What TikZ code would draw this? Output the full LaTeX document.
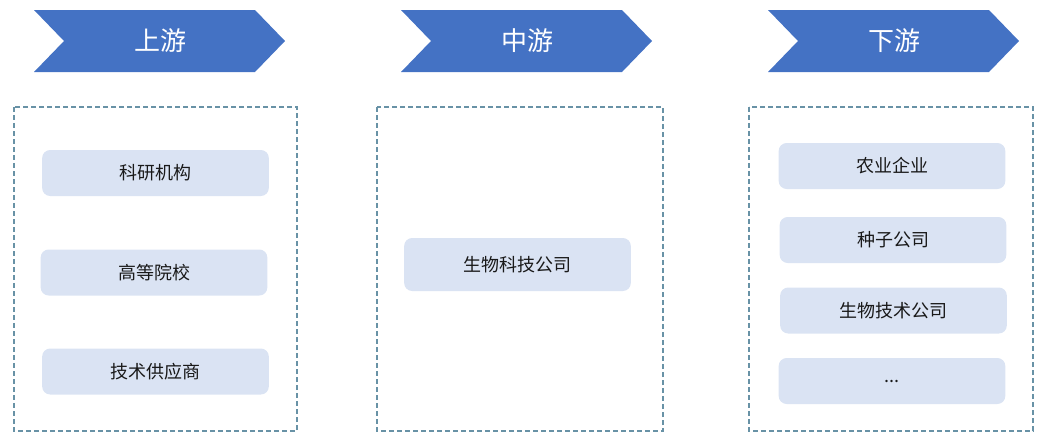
\documentclass[tikz,border=0pt]{standalone}
\usepackage{fontspec}
\newfontfamily\cjk{Noto Sans CJK SC}
\usetikzlibrary{positioning}
\usepackage{xcolor}
\definecolor{Blue}{RGB}{68,114,196}
\definecolor{LiteBlue}{RGB}{218,227,243}
\definecolor{DashTeal}{RGB}{104,146,166}
\definecolor{RichBlack}{RGB}{25,25,25}
\tikzset{%
  stage/.style={%
    fill=Blue,%
    draw=none,%
  },
  stage_label/.style={%
    text=white,%
    font={\cjk\fontsize{19.5}{22}\selectfont},%
  },
  group/.style={%
    draw=DashTeal,%
    line width=0.85pt,%
    dash pattern=on 3.5pt off 2.5pt,%
  },
  item/.style={%
    rectangle,%
    rounded corners=6pt,%
    fill=LiteBlue,%
    draw=none,%
    minimum width=170pt,%
    minimum height=34.5pt,%
    text=RichBlack,%
    font={\cjk\fontsize{13.5}{16}\selectfont},%
    align=center,%
  },
}
\begin{document}
\begin{tikzpicture}[x=0.75pt, y=-0.75pt]
    \useasboundingbox (0,0) rectangle (1050,447);

    % stage chevrons
    \foreach \x/\name/\txt in {34/Up/上游, 401/Mid/中游, 768/Down/下游} {
      \fill [stage] (\x,10) -- ++(221,0) -- ++(30,31) -- ++(-30,31)
        -- ++(-221,0) -- ++(30,-31) -- cycle;
      \node [stage_label] (\name) at (\x+126,41) {\txt};
    }

    % dashed groups
    \draw [group] (14,107) rectangle (297,431);
    \draw [group] (377,107) rectangle (663,431);
    \draw [group] (749,107) rectangle (1033,431);

    \node [item] (Research) at (155.5,173) {科研机构};
    \node [item] (College) at (154,272.5) {高等院校};
    \node [item] (Supplier) at (155.5,371.5) {技术供应商};

    \node [item, minimum height=39.75pt] (BioTech) at (517.5,264.5) {生物科技公司};

    \node [item] (Agri) at (892,166) {农业企业};
    \node [item] (Seed) at (893,240) {种子公司};
    \node [item] (BioTechCo) at (893.5,310.5) {生物技术公司};
    \node [item] (More) at (892,381) {...};
  \end{tikzpicture}
\end{document}
